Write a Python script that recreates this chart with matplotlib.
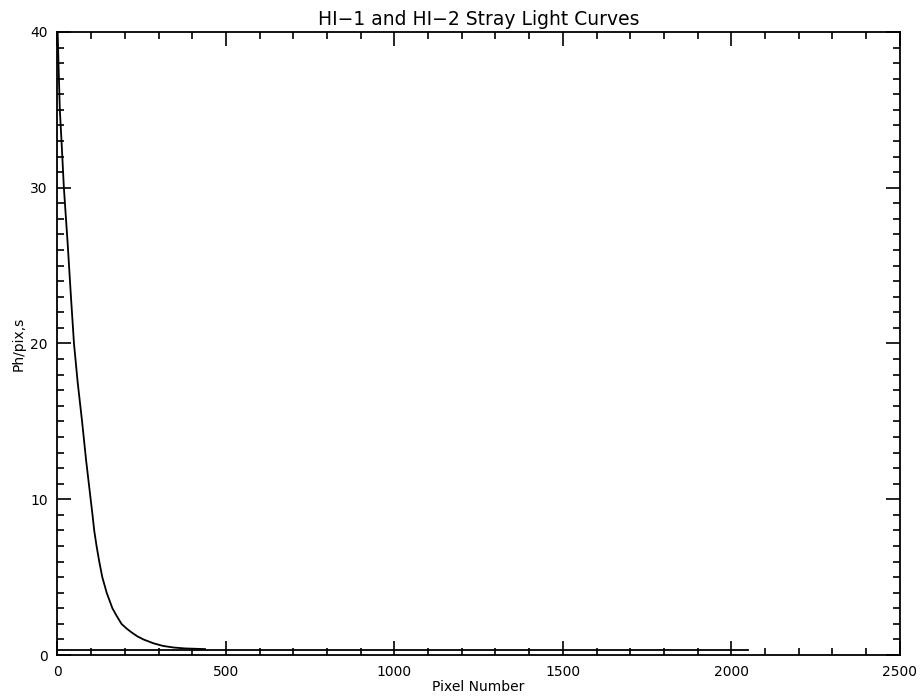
import matplotlib
matplotlib.use('Agg')
import matplotlib.pyplot as plt
from matplotlib.ticker import MultipleLocator

# HI-1 stray light curve
hi1_px = [0, 3, 7, 12, 19, 30, 40, 49, 60, 73, 85, 98.5, 104, 109, 116, 124,
          133, 146, 163, 176, 190, 205, 220, 237, 255, 285, 314, 345, 380, 438]
hi1_val = [40.5, 38, 35, 33, 30, 26.5, 23, 20, 17.5, 15, 12.5, 10, 9, 8, 7, 6,
           5, 4, 3, 2.5, 2, 1.7, 1.45, 1.2, 1.0, 0.75, 0.58, 0.48, 0.42, 0.38]

# HI-2 stray light curve (flat, close to zero)
hi2_px = [0, 500, 1000, 1500, 2048]
hi2_val = [0.35, 0.35, 0.35, 0.35, 0.35]

fig = plt.figure(figsize=(9.21, 6.98), dpi=100)
ax = fig.add_axes([0.0624, 0.0616, 0.9146, 0.8926])

ax.plot(hi1_px, hi1_val, color='black', lw=1.3)
ax.plot(hi2_px, hi2_val, color='black', lw=1.3)

ax.set_xlim(0, 2500)
ax.set_ylim(0, 40)
ax.xaxis.set_major_locator(MultipleLocator(500))
ax.xaxis.set_minor_locator(MultipleLocator(100))
ax.yaxis.set_major_locator(MultipleLocator(10))
ax.yaxis.set_minor_locator(MultipleLocator(1))

ax.tick_params(which='major', direction='in', top=True, right=True,
               length=10, width=1.2, pad=7, labelsize=10)
ax.tick_params(which='minor', direction='in', top=True, right=True,
               length=5, width=1.2)
for s in ax.spines.values():
    s.set_linewidth(1.3)

ax.set_title('HI\u22121 and HI\u22122 Stray Light Curves', fontsize=13.5, pad=5)
ax.set_xlabel('Pixel Number', fontsize=10, labelpad=1)
ax.set_ylabel('Ph/pix,s', fontsize=10, labelpad=3)

fig.savefig('out.png', dpi=100)
